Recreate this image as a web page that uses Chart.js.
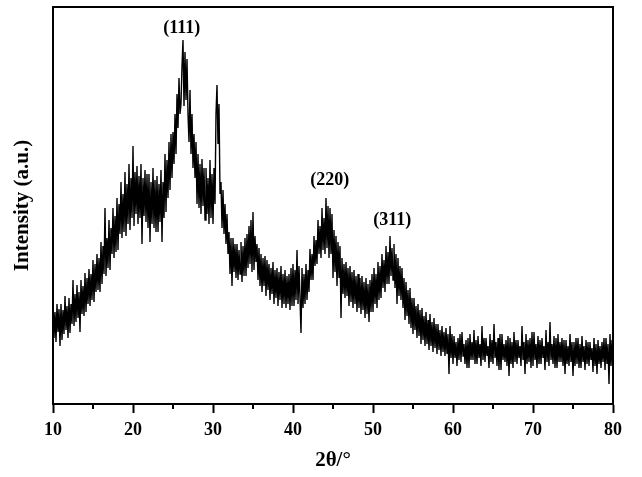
<!DOCTYPE html>
<html><head><meta charset="utf-8">
<script src="https://cdn.jsdelivr.net/npm/chart.js@4"></script>
<style>html,body{margin:0;padding:0;background:#fff}canvas{display:block}</style>
</head><body>
<div style="width:642px;height:477px"><canvas id="c" width="642" height="477"></canvas></div>
<script>
// measurement grid (2θ, degrees)
const angleStart = 10;
const angleStep = 0.125;
const intensity = [
104,66,92,62,100,72,95,58,  100,64,94,70,108,74,98,66,  106,71,100,80,124,78,110,82,
119,86,112,72,124,90,118,88,  131,92,126,100,135,98,130,104,  144,102,140,112,150,114,146,112,
162,120,158,130,196,128,166,136,  184,134,176,150,196,146,188,152,  206,154,200,170,222,166,210,172,
232,168,220,180,240,174,226,186,  258,178,232,190,238,180,228,186,  240,160,226,188,234,182,230,176,
230,162,222,180,236,176,224,172,  228,172,220,182,234,162,222,186,  250,192,244,206,262,214,270,226,
272,240,290,250,310,276,326,290,  300,338,364,298,352,304,345,290,  262,314,250,290,236,270,226,262,
200,250,196,240,190,245,198,236,  184,236,190,226,180,244,186,230,  180,236,200,290,319,260,300,210,
222,176,214,170,200,160,190,150,  172,130,166,118,166,132,160,126,  160,124,154,130,162,122,158,128,
166,128,170,136,178,140,184,132,  192,134,168,142,160,124,156,118,  150,112,146,118,148,108,144,114,
140,104,136,110,142,100,134,106,  136,98,132,104,138,96,130,100,  134,96,128,100,130,94,136,98,
140,98,134,104,154,100,138,106,  71,136,96,130,100,140,104,134,  112,155,124,150,124,168,138,164,
140,184,150,178,146,196,154,186,  150,206,156,198,146,196,150,190,  126,174,132,168,118,162,126,158,
86,146,110,140,106,142,108,136,  98,138,102,132,96,134,100,128,  92,130,96,126,90,128,94,122,
86,126,90,120,82,124,92,130,  92,136,100,130,96,142,104,138,  106,150,116,144,112,158,120,152,
120,168,128,156,124,160,116,150,  100,146,108,138,104,136,96,126,  84,122,88,114,80,116,76,106,
70,106,74,98,66,100,68,94,  60,96,64,88,58,92,60,84,  54,90,58,82,52,86,56,80,
50,80,54,74,48,78,52,72,  48,76,50,70,30,78,46,70,  40,68,46,62,38,66,44,70,
42,72,48,60,40,64,36,66,  36,70,44,62,44,74,40,64,  40,68,46,60,38,78,44,66,
42,66,48,58,36,70,42,64,  40,80,46,62,38,66,34,70,  34,70,44,60,42,64,38,68,
28,66,40,62,36,72,42,64,  40,64,46,58,38,78,44,62,  30,70,40,64,42,66,36,72,
38,72,44,60,36,68,40,64,  40,66,46,58,34,74,42,62,  38,82,44,60,40,68,36,66,
36,70,42,62,42,66,38,64,  30,64,40,58,38,70,42,62,  28,62,38,66,40,66,36,60,
36,68,42,58,34,64,40,62,  38,62,44,56,32,66,38,60,  30,64,40,58,36,62,42,66,
34,66,40,60,20,70,38,64,
40
];
const xMin = 10, xMax = 80;
const majorTicks = [10,20,30,40,50,60,70,80];
const minorTicks = [15,25,35,45,55,65,75];
const peakLabels = ['(111)','(220)','(311)'];
const peakAngles = [26.1, 44.6, 52.4];
const peakLabelIntensity = [376, 224, 184];

const points = intensity.map((v,i)=>({x: angleStart + i*angleStep, y: v}));
const serif = 'Liberation Serif, Times New Roman, serif';

const framePlugin = {
  id:'frame',
  afterDraw(chart){
    const {ctx, chartArea:a, scales:{x, y}} = chart;
    ctx.save();
    ctx.strokeStyle='#000'; ctx.lineWidth=2;
    ctx.beginPath();
    ctx.moveTo(a.left, a.top); ctx.lineTo(a.right, a.top); ctx.lineTo(a.right, a.bottom);
    ctx.stroke();
    ctx.beginPath();
    minorTicks.forEach(v=>{const px=Math.round(x.getPixelForValue(v)); ctx.moveTo(px, a.bottom); ctx.lineTo(px, a.bottom+5);});
    ctx.stroke();
    ctx.fillStyle='#000';
    ctx.font='bold 18px '+serif;
    ctx.textAlign='center'; ctx.textBaseline='middle';
    peakLabels.forEach((t,i)=>ctx.fillText(t, x.getPixelForValue(peakAngles[i]), y.getPixelForValue(peakLabelIntensity[i])));
    ctx.restore();
  }
};

new Chart(document.getElementById('c'), {
  type:'line',
  data:{datasets:[{data:points, borderColor:'#000', borderWidth:1.4, pointRadius:0, tension:0, fill:false}]},
  options:{
    responsive:false, animation:false, parsing:false,
    plugins:{legend:{display:false}, tooltip:{enabled:false}},
    layout:{padding:{top:7, right:29, left:0, bottom:0}},
    scales:{
      x:{type:'linear', min:xMin, max:xMax,
        ticks:{stepSize:5, autoSkip:false, maxRotation:0, padding:7, color:'#000',
          font:{family:serif, size:18, weight:'bold'},
          callback:v=> majorTicks.includes(v) ? String(v) : ''},
        grid:{display:true, drawOnChartArea:false, tickLength:9, tickWidth:2,
          tickColor:c=> (c.tick && majorTicks.includes(c.tick.value)) ? '#000' : 'rgba(0,0,0,0)'},
        border:{display:true, color:'#000', width:2},
        title:{display:true, text:'2θ/°', color:'#000', font:{family:serif, size:21, weight:'bold'}, padding:{top:0, bottom:4}},
        afterFit(s){ s.height = 73; }
      },
      y:{min:0, max:397,
        ticks:{display:false},
        grid:{display:false},
        border:{display:true, color:'#000', width:2},
        title:{display:true, text:'Intensity (a.u.)', color:'#000', font:{family:serif, size:21, weight:'bold'}, padding:{top:10, bottom:0}},
        afterFit(s){ s.width = 53; }
      }
    }
  },
  plugins:[framePlugin]
});
</script>
</body></html>
